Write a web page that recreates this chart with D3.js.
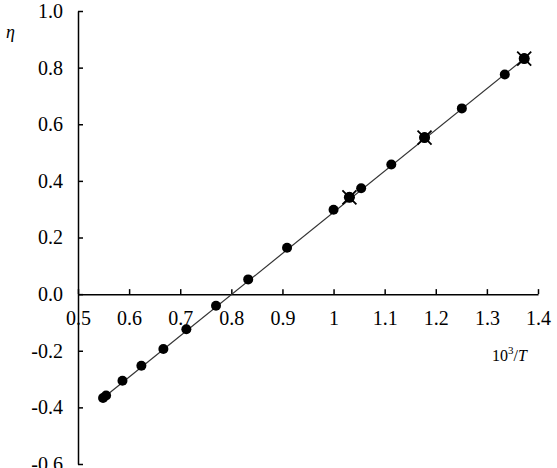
<!DOCTYPE html>
<html>
<head>
<meta charset="utf-8">
<script src="https://cdn.jsdelivr.net/npm/d3@7"></script>
<style>
    body { margin: 0; background: #fff; }
    svg { display: block; }
    .axis path, .axis line { stroke: #000; stroke-width: 1.5; }
    .axis text { fill: #000; }
    .fit { stroke: #333; stroke-width: 1.2; fill: none; }
</style>
</head>
<body>
<div id="chart"></div>
<script>
// measured points (10^3/T, eta)
const xVals = [0.549, 0.555, 0.587, 0.624, 0.667, 0.712, 0.770, 0.833, 0.909, 1.000, 1.031, 1.054, 1.113, 1.178, 1.251, 1.335, 1.373]
const yVals = [-0.367, -0.358, -0.306, -0.253, -0.194, -0.124, -0.041, 0.052, 0.164, 0.298, 0.342, 0.374, 0.458, 0.553, 0.656, 0.776, 0.832]
// points also marked with a cross
const crossX = [1.031, 1.178, 1.373]
const crossY = [0.342, 0.553, 0.832]
// fitted straight line
const fitX = [0.545, 1.38]
const fitY = [-0.373, 0.842]
// axis ticks
const xTicks = [0.5, 0.6, 0.7, 0.8, 0.9, 1.0, 1.1, 1.2, 1.3, 1.4]
const yTicks = [-0.6, -0.4, -0.2, 0.0, 0.2, 0.4, 0.6, 0.8, 1.0]

const W = 557, H = 468
const serif = '"Liberation Serif", "Times New Roman", Times, serif'

const svg = d3.select('#chart').append('svg')
    .attr('width', W)
    .attr('height', H)
    .style('font-family', serif)

let x = d3.scaleLinear()
    .domain([0.5, 1.4])
    .range([78, 538])

let y = d3.scaleLinear()
    .domain([-0.6, 1.0])
    .range([464, 11])

const xFmt = d => String(+d.toFixed(1))
const yFmt = d => d.toFixed(1)

let xAxis = d3.axisBottom(x)
        .tickValues(xTicks)
        .tickFormat(xFmt)
        .tickSizeInner(-5)
        .tickSizeOuter(0)
        .tickPadding(17),
    yAxis = d3.axisLeft(y)
        .tickValues(yTicks)
        .tickFormat(yFmt)
        .tickSizeInner(-5)
        .tickSizeOuter(0)
        .tickPadding(15)

svg.append('g')
    .attr('class', 'x-axis axis')
    .attr('transform', `translate(0,${y(0)})`)
    .call(xAxis)

svg.append('g')
    .attr('class', 'y-axis axis')
    .attr('transform', `translate(${x(0.5)},0)`)
    .call(yAxis)

svg.selectAll('.axis text')
    .style('font-family', serif)
    .style('font-size', '20px')

// fitted line
const pts = fitX.map((d, i) => [d, fitY[i]])
svg.append('path')
    .datum(pts)
    .attr('class', 'fit')
    .attr('d', d3.line().x(d => x(d[0])).y(d => y(d[1])))

// dots
const data = xVals.map((d, i) => ({x: d, y: yVals[i]}))
svg.append('g')
  .selectAll('circle')
  .data(data)
  .join('circle')
    .attr('cx', d => x(d.x))
    .attr('cy', d => y(d.y))
    .attr('r', 5)
    .attr('fill', '#000')

// cross markers
const crosses = crossX.map((d, i) => ({x: d, y: crossY[i]}))
const cg = svg.append('g')
    .selectAll('g')
    .data(crosses)
    .join('g')
      .attr('transform', d => `translate(${x(d.x)},${y(d.y)})`)
cg.append('circle')
    .attr('r', 5.5)
    .attr('fill', '#000')
cg.append('path')
    .attr('d', 'M-7,-7L7,7M-7,7L7,-7')
    .attr('stroke', '#000')
    .attr('stroke-width', 1.8)

// axis titles
svg.append('text')
    .attr('x', 6)
    .attr('y', 38)
    .style('font-family', serif)
    .style('font-size', '18px')
    .style('font-style', 'italic')
    .text('η')

const xl = svg.append('text')
    .attr('x', 492)
    .attr('y', 361)
    .style('font-family', serif)
    .style('font-size', '16px')
xl.append('tspan').text('10')
xl.append('tspan').attr('dy', -7).style('font-size', '11px').text('3')
xl.append('tspan').attr('dy', 7).text('/')
xl.append('tspan').style('font-style', 'italic').text('T')
</script>
</body>
</html>
